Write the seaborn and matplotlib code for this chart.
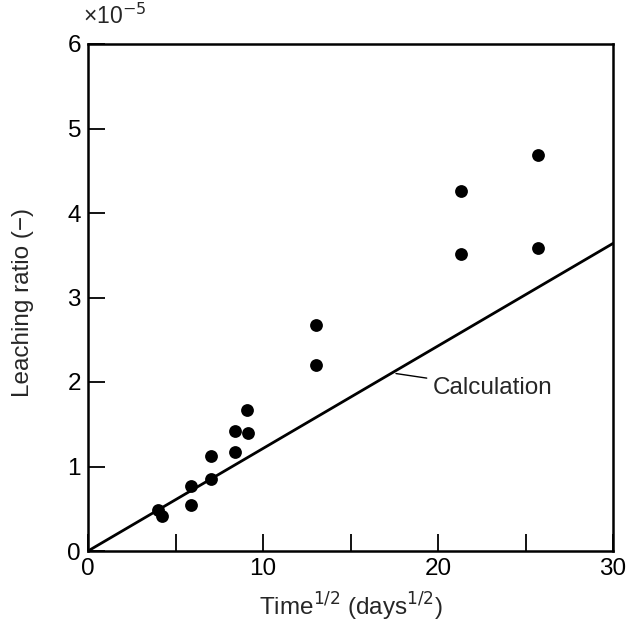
import matplotlib
matplotlib.use("Agg")
import matplotlib.pyplot as plt
import seaborn as sns
import pandas as pd

# Measured data (Time^1/2 in days^1/2, leaching ratio in units of 1e-5)
time_sqrt = [4.0, 4.2, 5.9, 5.9, 7.0, 7.0, 8.4, 8.4, 9.15, 9.1, 13.0, 13.0, 21.3, 21.3, 25.7, 25.7]
leach_ratio = [0.49, 0.42, 0.77, 0.54, 1.12, 0.85, 1.42, 1.17, 1.40, 1.67, 2.68, 2.20, 4.26, 3.51, 4.69, 3.58]

# Calculation line
calc_x = [0, 30]
calc_y = [0, 3.64]

x_ticks = [0, 5, 10, 15, 20, 25, 30]
x_tick_labels = ["0", "", "10", "", "20", "", "30"]
y_ticks = [0, 1, 2, 3, 4, 5, 6]
y_tick_labels = ["0", "1", "2", "3", "4", "5", "6"]

sns.set_theme(style="ticks")
plt.rcParams['font.family'] = ['Liberation Sans', 'DejaVu Sans']

fig = plt.figure(figsize=(6.28, 6.23), dpi=100)
ax = fig.add_axes([88/628, (623-551)/623, (613-88)/628, (551-44)/623])

pts = pd.DataFrame({"t": time_sqrt, "r": leach_ratio})
calc = pd.DataFrame({"t": calc_x, "r": calc_y})

sns.lineplot(data=calc, x="t", y="r", ax=ax, color="black", linewidth=2.0)
sns.scatterplot(data=pts, x="t", y="r", ax=ax, color="black", s=85, edgecolor="black", linewidth=0, zorder=3)

ax.set_xlim(0, 30)
ax.set_ylim(0, 6)
ax.set_xticks(x_ticks)
ax.set_xticklabels(x_tick_labels)
ax.set_yticks(y_ticks)
ax.set_yticklabels(y_tick_labels)
ax.tick_params(direction="in", length=12, width=1.3, labelsize=17.5, colors="black", pad=5)
for s in ax.spines.values():
    s.set_visible(True)
    s.set_linewidth(1.8)
    s.set_color("black")

ax.set_xlabel("Time$^{1/2}$ (days$^{1/2}$)", fontsize=17.5, labelpad=8)
ax.set_ylabel("Leaching ratio (\u2212)", fontsize=17.5)
ax.yaxis.set_label_coords(-0.103, 0.49)

ax.text(-0.3, 6.18, "\u00d710$^{-5}$", fontsize=16.5, ha="left", va="bottom")

ax.annotate("Calculation", xy=(17.6, 2.1), xytext=(19.7, 1.93),
            fontsize=17.5, ha="left", va="center",
            arrowprops=dict(arrowstyle="-", color="black", lw=1.0, shrinkA=2, shrinkB=0))

fig.savefig("out.png", dpi=100)
